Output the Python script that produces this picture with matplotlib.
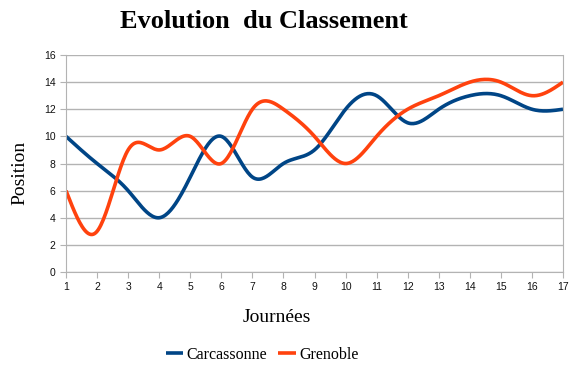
import numpy as np
import matplotlib
matplotlib.use("Agg")
import matplotlib.pyplot as plt

journees = list(range(1, 18))
carcassonne = [10, 8, 6, 4, 7, 10, 7, 8, 9, 12, 13, 11, 12, 13, 13, 12, 12]
grenoble = [6, 3, 9, 9, 10, 8, 12, 12, 10, 8, 10, 12, 13, 14, 14, 13, 14]


def natural_spline(x, y, n=400):
    """Courbe lissée (spline cubique naturelle) passant par les points."""
    x = np.asarray(x, float)
    y = np.asarray(y, float)
    k = len(x)
    h = np.diff(x)
    A = np.zeros((k, k))
    b = np.zeros(k)
    A[0, 0] = A[-1, -1] = 1
    for i in range(1, k - 1):
        A[i, i - 1] = h[i - 1]
        A[i, i] = 2 * (h[i - 1] + h[i])
        A[i, i + 1] = h[i]
        b[i] = 6 * ((y[i + 1] - y[i]) / h[i] - (y[i] - y[i - 1]) / h[i - 1])
    m = np.linalg.solve(A, b)
    xs = np.linspace(x[0], x[-1], n)
    idx = np.clip(np.searchsorted(x, xs) - 1, 0, k - 2)
    x0, x1 = x[idx], x[idx + 1]
    hh = x1 - x0
    t0, t1 = x1 - xs, xs - x0
    ys = (m[idx] * t0**3 + m[idx + 1] * t1**3) / (6 * hh) \
        + (y[idx] / hh - m[idx] * hh / 6) * t0 \
        + (y[idx + 1] / hh - m[idx + 1] * hh / 6) * t1
    return xs, ys


fig = plt.figure(figsize=(5.82, 3.71), dpi=100)
ax = fig.add_axes([66 / 582, 1 - 272 / 371, (563 - 66) / 582, (272 - 55) / 371])

xs, ys = natural_spline(journees, carcassonne)
ax.plot(xs, ys, color="#004586", lw=2.6, label="Carcassonne", solid_capstyle="butt")
xs, ys = natural_spline(journees, grenoble)
ax.plot(xs, ys, color="#ff420e", lw=2.6, label="Grenoble", solid_capstyle="butt")

ax.set_xlim(1, 17)
ax.set_ylim(0, 16)
ax.set_xticks(journees)
ax.set_yticks(range(0, 17, 2))
ax.grid(axis="y", color="#b3b3b3", lw=1)
ax.set_axisbelow(True)
for side in ["left", "bottom", "right"]:
    ax.spines[side].set_color("#b3b3b3")
ax.spines["top"].set_visible(False)
ax.tick_params(colors="#b3b3b3", length=4, labelcolor="#111111", labelsize=7.5)
for lab in ax.get_xticklabels() + ax.get_yticklabels():
    lab.set_family("Liberation Sans")

serif = "Liberation Serif"
fig.text(264 / 582, 1 - 22 / 371, "Evolution  du Classement", ha="center", va="center",
         fontsize=19, fontweight="bold", family=serif)
fig.text(20 / 582, 1 - 173 / 371, "Position", rotation=90, ha="center", va="center",
         fontsize=14, family=serif)
fig.text(277 / 582, 1 - 318 / 371, "Journées", ha="center", va="center",
         fontsize=14, family=serif)

fig.legend(loc="center", bbox_to_anchor=(262 / 582, 1 - 355 / 371), ncol=2, frameon=False,
           prop={"family": serif, "size": 11.5}, handlelength=1.1, handletextpad=0.2,
           columnspacing=0.7)

fig.savefig("out.png", dpi=100)
